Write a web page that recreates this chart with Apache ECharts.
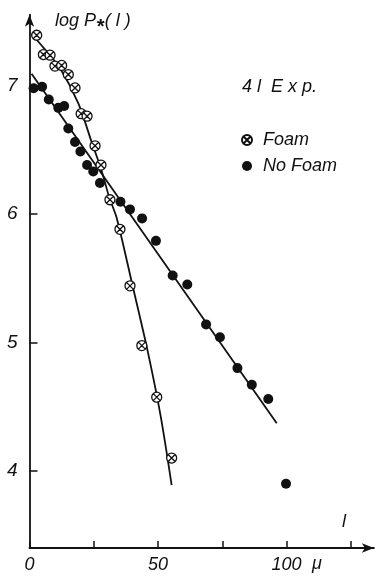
<!DOCTYPE html>
<html>
<head>
<meta charset="utf-8">
<script src="https://cdn.jsdelivr.net/npm/echarts@6/dist/echarts.min.js"></script>
<style>
  html, body { margin: 0; padding: 0; background: #fff; }
  #chart { width: 376px; height: 576px; }
</style>
</head>
<body>
<div id="chart"></div>
<script>
// Foam points (l in micron, log P*)
const foamX = [2.8, 5.4, 8.0, 9.9, 12.5, 15.1, 17.7, 20.1, 22.4, 25.5, 27.8, 31.3, 35.2, 39.1, 43.7, 49.5, 55.3];
const foamY = [7.39, 7.24, 7.235, 7.15, 7.155, 7.084, 6.98, 6.78, 6.76, 6.53, 6.38, 6.11, 5.88, 5.44, 4.975, 4.574, 4.10];

// No foam points
const noFoamX = [1.6, 4.9, 7.5, 11.2, 13.5, 15.1, 17.7, 19.8, 22.4, 24.8, 27.4, 35.4, 39.1, 43.8, 49.2, 55.7, 61.4, 68.7, 74.1, 80.9, 86.5, 92.9, 99.8];
const noFoamY = [6.977, 6.99, 6.89, 6.825, 6.84, 6.665, 6.56, 6.485, 6.38, 6.33, 6.24, 6.095, 6.035, 5.965, 5.79, 5.52, 5.45, 5.14, 5.04, 4.80, 4.67, 4.56, 3.90];

// hand drawn fit curves
const foamFitX = [0.8, 6, 12, 19, 24, 28, 31, 33.9, 40, 46, 51, 55.3];
const foamFitY = [7.40, 7.28, 7.13, 6.86, 6.57, 6.34, 6.13, 5.97, 5.45, 4.93, 4.43, 3.89];
const noFoamFitX = [0.8, 96.2];
const noFoamFitY = [7.09, 4.37];

const yTicks = [4, 5, 6, 7];

const zip = (xs, ys) => xs.map((x, i) => [x, ys[i]]);

const foamSymbol = 'path://M0,10 A10,10 0 1,1 20,10 A10,10 0 1,1 0,10 Z M3.5,3.5 L16.5,16.5 M16.5,3.5 L3.5,16.5';
const font = 'Liberation Sans';

let myChart = echarts.init(document.getElementById('chart'));
let option = {
  animation: false,
  backgroundColor: '#fff',
  grid: {
    left: 29.5,
    width: 344.4,
    bottom: 28,
    top: 14.7,
  },
  legend: {
    orient: 'vertical',
    left: 236,
    top: 126,
    itemWidth: 10,
    itemHeight: 10,
    itemGap: 8,
    data: ['Foam', 'No Foam'],
    textStyle: {
      fontFamily: font,
      fontStyle: 'italic',
      fontSize: 18,
      color: '#111',
      padding: [0, 0, 0, 6],
    },
  },
  xAxis: {
    type: 'value',
    min: 0,
    max: 134,
    interval: 25,
    splitLine: { show: false },
    axisLine: {
      symbol: ['none', 'arrow'],
      symbolSize: [7, 12],
      lineStyle: { color: '#111', width: 1.8 },
    },
    axisTick: { inside: true, length: 7, lineStyle: { color: '#111', width: 1.5 } },
    axisLabel: {
      showMaxLabel: false,
      margin: 8,
      fontFamily: font,
      fontStyle: 'italic',
      fontSize: 18,
      color: '#111',
      formatter: v => (v % 50 === 0 ? String(v) : ''),
    },
  },
  yAxis: {
    type: 'value',
    min: 3.4,
    max: 7.55,
    splitLine: { show: false },
    axisLine: {
      symbol: ['none', 'arrow'],
      symbolSize: [7, 12],
      lineStyle: { color: '#111', width: 1.8 },
    },
    axisTick: { inside: true, length: 8, customValues: yTicks, lineStyle: { color: '#111', width: 1.5 } },
    axisLabel: {
      customValues: yTicks,
      margin: 12,
      fontFamily: font,
      fontStyle: 'italic',
      fontSize: 19,
      color: '#111',
    },
  },
  graphic: [
    {
      type: 'text', left: 55, top: 12,
      style: {
        text: '{a|log P}{b|*}{a|( l )}',
        rich: {
          a: { fontFamily: font, fontStyle: 'italic', fontSize: 18, fill: '#111' },
          b: { fontFamily: font, fontStyle: 'italic', fontSize: 20, fontWeight: 'bold', fill: '#111', padding: [13, 1, 0, 0] },
        },
      },
    },
    {
      type: 'text', left: 242, top: 78,
      style: { text: '4 l  E x p.', fontFamily: font, fontStyle: 'italic', fontSize: 18, fill: '#111' },
    },
    {
      type: 'text', left: 342, top: 513,
      style: { text: 'l', fontFamily: font, fontStyle: 'italic', fontSize: 18, fill: '#111' },
    },
    {
      type: 'text', left: 312, top: 555,
      style: { text: 'μ', fontFamily: font, fontStyle: 'italic', fontSize: 18, fill: '#111' },
    },
  ],
  series: [
    {
      name: 'foam fit',
      type: 'line',
      data: zip(foamFitX, foamFitY),
      smooth: 0.3,
      showSymbol: false,
      lineStyle: { color: '#111', width: 1.8 },
      z: 1,
    },
    {
      name: 'no foam fit',
      type: 'line',
      data: zip(noFoamFitX, noFoamFitY),
      showSymbol: false,
      lineStyle: { color: '#111', width: 1.8 },
      z: 1,
    },
    {
      name: 'No Foam',
      type: 'scatter',
      data: zip(noFoamX, noFoamY),
      symbol: 'circle',
      symbolSize: 10,
      itemStyle: { color: '#111', opacity: 1 },
      z: 3,
    },
    {
      name: 'Foam',
      type: 'scatter',
      data: zip(foamX, foamY),
      symbol: foamSymbol,
      symbolSize: 10,
      itemStyle: { color: '#fff', borderColor: '#111', borderWidth: 1.3, opacity: 1 },
      z: 4,
    },
  ],
};
myChart.setOption(option);
</script>
</body>
</html>
